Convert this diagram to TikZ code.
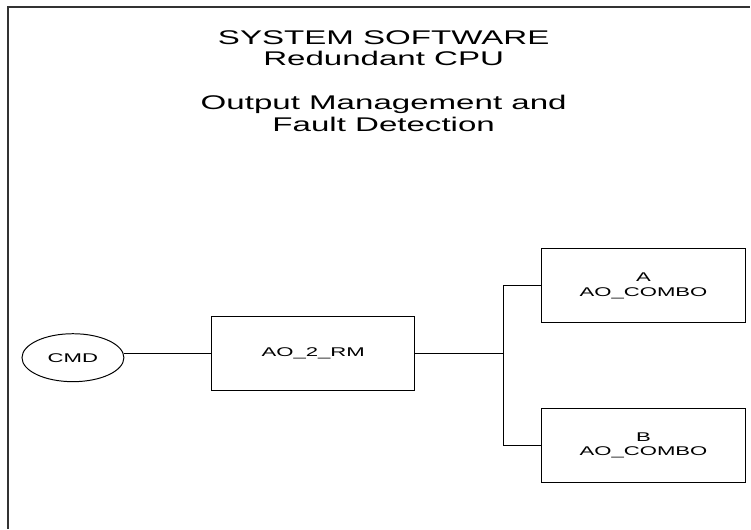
\documentclass[tikz,border=0pt]{standalone}
\usepackage{fontspec}
\newfontfamily\titlefont[FakeStretch=1.67]{Liberation Sans}
\newfontfamily\boxfont[FakeStretch=1.75]{Liberation Sans}
\usetikzlibrary{shapes.geometric}
\begin{document}
\begin{tikzpicture}[title node/.style={font=\titlefont\fontsize{14.1}{15.5}\selectfont, align=center, inner sep=0pt},block node/.style={draw=black, line width=0.8pt, font=\boxfont\fontsize{9}{10.3}\selectfont, align=center, minimum width=5.10cm, minimum height=1.85cm, inner sep=0pt},cmd node/.style={draw=black, line width=0.7pt, ellipse, font=\boxfont\fontsize{9}{10.3}\selectfont, minimum width=2.55cm, minimum height=1.20cm, inner sep=0pt},wire/.style={line width=0.8pt, black},frame/.style={line width=0.9pt, black!80}]%
  % Title%
\node[title node] (title) at (9.60,11.20) {SYSTEM SOFTWARE\\Redundant CPU\\[15.5pt]Output Management and\\Fault Detection};%
  % Command source%
\node[cmd node] (cmd) at (1.825,4.275) {CMD};%
  % Redundancy manager%
\node[block node, minimum width=5.075cm] (rm) at (7.8375,4.375) {AO\_2\_RM};%
  % Output channels%
\node[block node] (combo a) at (16.10,6.075) {A\\AO\_COMBO};%
\node[block node] (combo b) at (16.10,2.075) {B\\AO\_COMBO};%
\coordinate (fork) at (12.60,4.375);%
  % Connectors%
\draw[wire] (cmd.east |- rm.west) -- (rm.west);%
\draw[wire] (rm.east) -- (fork);%
\draw[wire] (combo a.west) -| (fork) |- (combo b.west);%
\draw[frame] (0.20,0.00) |- (18.775,13.05);%
\path[use as bounding box] (0.00,0.00) rectangle (18.775,13.225);%
\end{tikzpicture}
\end{document}
